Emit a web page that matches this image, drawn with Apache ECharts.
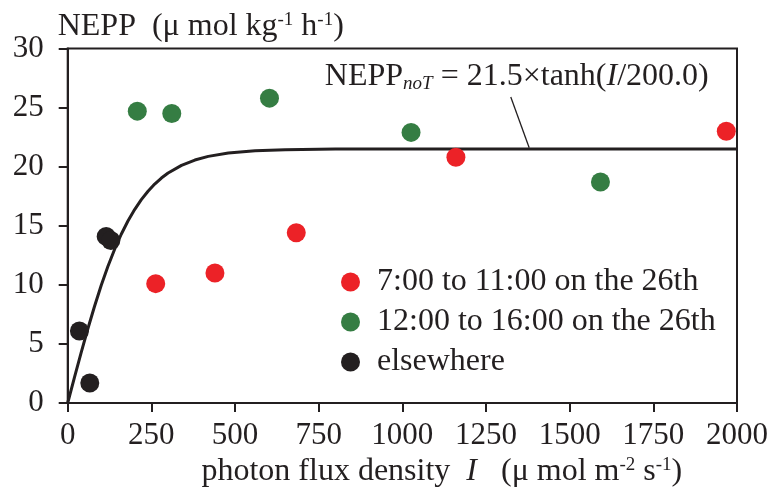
<!DOCTYPE html>
<html>
<head>
<meta charset="utf-8">
<script src="https://cdn.jsdelivr.net/npm/echarts@6/dist/echarts.min.js"></script>
<style>html,body{margin:0;padding:0;background:#fff;}#c{width:774px;height:499px;}</style>
</head>
<body>
<div id="c"></div>
<script>
// ---- data ----
const xTicks = [0, 250, 500, 750, 1000, 1250, 1500, 1750, 2000];
const yTicks = [0, 5, 10, 15, 20, 25, 30];
const morningI    = [263, 440, 683, 1160, 1968];
const morningNEPP = [10.1, 11.0, 14.4, 20.8, 23.0];
const afternoonI    = [208, 311, 603, 1026, 1592];
const afternoonNEPP = [24.7, 24.5, 25.8, 22.9, 18.7];
const otherI    = [35, 66, 115, 129];
const otherNEPP = [6.1, 1.7, 14.1, 13.75];
// fitted curve NEPP_noT
const curveI    = [0, 20, 40, 60, 80, 100, 120, 140, 160, 180, 200, 220, 240, 260, 280, 300, 340, 380, 420, 480, 560, 650, 800, 1000, 2000];
const curveNEPP = [0, 2.14, 4.24, 6.26, 8.17, 9.94, 11.55, 12.99, 14.28, 15.40, 16.37, 17.21, 17.92, 18.53, 19.04, 19.46, 20.11, 20.56, 20.87, 21.15, 21.34, 21.44, 21.49, 21.5, 21.5];
// leader line of the equation label
const leaderI    = [1324, 1379];
const leaderNEPP = [25.9, 21.6];
const seriesNames = ['7:00 to 11:00 on the 26th', '12:00 to 16:00 on the 26th', 'elsewhere'];

const FONT = 'Liberation Serif';
const INK = '#231f20';
const zip = (a, b) => a.map((v, i) => [v, b[i]]);

const chart = echarts.init(document.getElementById('c'), null, {renderer: 'canvas'});
chart.setOption({
  animation: false,
  backgroundColor: '#fff',
  textStyle: {fontFamily: FONT, color: INK},
  grid: {left: 67.7, right: 37, top: 48.5, bottom: 96, show: true, borderColor: INK, borderWidth: 2, backgroundColor: 'transparent'},
  xAxis: {
    type: 'value', min: xTicks[0], max: xTicks[xTicks.length - 1], interval: 250,
    axisLine: {show: true, onZero: false, lineStyle: {color: INK, width: 2}},
    axisTick: {show: true, inside: false, length: 9, lineStyle: {color: INK, width: 2}},
    splitLine: {show: false},
    axisLabel: {fontFamily: FONT, fontSize: 31, color: INK, margin: 17, formatter: v => String(v)},
    name: '{n|photon flux density  }{i|I}{n|   (μ mol m}{s|-2}{n| s}{s|-1}{n|)}',
    nameLocation: 'middle', nameGap: 50,
    nameTextStyle: {
      padding: [0, 0, 0, 79],
      rich: {
        n: {fontFamily: FONT, fontSize: 32, color: INK},
        i: {fontFamily: FONT, fontSize: 32, fontStyle: 'italic', color: INK},
        s: {fontFamily: FONT, fontSize: 19, color: INK, verticalAlign: 'top', padding: [0, 0, 8, 0]}
      }
    }
  },
  yAxis: {
    type: 'value', min: yTicks[0], max: yTicks[yTicks.length - 1], interval: 5,
    axisLine: {show: true, onZero: false, lineStyle: {color: INK, width: 2}},
    axisTick: {show: true, inside: false, length: 9, lineStyle: {color: INK, width: 2}},
    splitLine: {show: false},
    axisLabel: {fontFamily: FONT, fontSize: 31, color: INK, margin: 24},
    name: '{n|NEPP  (μ mol kg}{s|-1}{n| h}{s|-1}{n|)}',
    nameLocation: 'end', nameGap: 6,
    nameTextStyle: {
      align: 'left', padding: [0, 0, 0, -10],
      rich: {
        n: {fontFamily: FONT, fontSize: 32, color: INK},
        s: {fontFamily: FONT, fontSize: 19, color: INK, verticalAlign: 'top', padding: [0, 0, 8, 0]}
      }
    }
  },
  legend: {
    data: seriesNames,
    orient: 'vertical', left: 336, top: 261,
    itemWidth: 19, itemHeight: 19, itemGap: 8, icon: 'circle',
    textStyle: {fontFamily: FONT, fontSize: 32, color: INK, padding: [0, 0, 0, 12]}
  },
  series: [
    {
      name: 'fit', type: 'line', data: zip(curveI, curveNEPP), smooth: false,
      showSymbol: false, symbol: 'none', lineStyle: {color: INK, width: 3, join: 'round'}, z: 2, silent: true
    },
    {
      name: 'leader', type: 'line', data: zip(leaderI, leaderNEPP), showSymbol: false, symbol: 'none',
      lineStyle: {color: INK, width: 1.3}, z: 2, silent: true
    },
    {name: seriesNames[0], type: 'scatter', data: zip(morningI, morningNEPP), symbolSize: 19, itemStyle: {color: '#ec2227', opacity: 1}, z: 3},
    {name: seriesNames[1], type: 'scatter', data: zip(afternoonI, afternoonNEPP), symbolSize: 19, itemStyle: {color: '#357d43', opacity: 1}, z: 3},
    {name: seriesNames[2], type: 'scatter', data: zip(otherI, otherNEPP), symbolSize: 19, itemStyle: {color: INK, opacity: 1}, z: 3},
    {
      name: 'equation', type: 'scatter', data: [[leaderI[0], leaderNEPP[0]]], symbolSize: 1, silent: true, z: 4,
      itemStyle: {color: 'rgba(0,0,0,0)', opacity: 1},
      label: {
        show: true, position: 'top', distance: 3, offset: [6, 0], color: INK, opacity: 1,
        formatter: '{n|NEPP}{sub|noT}{n| = 21.5×tanh(}{i|I}{n|/200.0)}',
        rich: {
          n: {fontFamily: FONT, fontSize: 32, color: INK},
          i: {fontFamily: FONT, fontSize: 32, fontStyle: 'italic', color: INK},
          sub: {fontFamily: FONT, fontSize: 19, fontStyle: 'italic', color: INK, verticalAlign: 'bottom', padding: [14, 0, 0, 0]}
        }
      }
    }
  ]
});
</script>
</body>
</html>
